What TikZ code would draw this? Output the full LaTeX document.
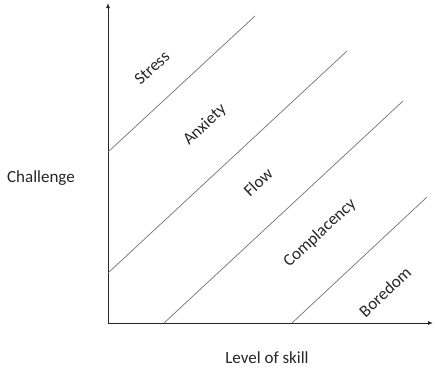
\documentclass[tikz,border=0pt]{standalone}
\usepackage{fontspec}
\setmainfont{Carlito}
\usetikzlibrary{arrows.meta}
\begin{document}
\begin{tikzpicture}[x=1pt,y=-1pt,
  axis/.style={draw=black!85,line width=0.9pt,-{Latex[length=5pt,width=4pt]}},
  zone/.style={draw=black!55,line width=0.7pt},
  lbl/.style={font=\fontsize{17}{20}\selectfont,text=black!85,inner sep=0pt},
  zlbl/.style={lbl,rotate=43}]
\useasboundingbox (0,0) rectangle (436,373);
\coordinate (o) at (108,323);
\coordinate (ytop) at (108,3);
\coordinate (xend) at (433,323);
\draw[axis] (o) -- (ytop);
\draw[axis] (o) -- (xend);
\coordinate (a1) at (108,152); \coordinate (b1) at (255,16);
\coordinate (a2) at (108,273); \coordinate (b2) at (347,51);
\coordinate (a3) at (164,323); \coordinate (b3) at (403,101);
\coordinate (a4) at (292,323); \coordinate (b4) at (427,197);
\draw[zone] (a1) -- (b1);
\draw[zone] (a2) -- (b2);
\draw[zone] (a3) -- (b3);
\draw[zone] (a4) -- (b4);
\node[zlbl] (stress) at (152,68) {Stress};
\node[zlbl] (anxiety) at (205,125) {Anxiety};
\node[zlbl] (flow) at (258,182) {Flow};
\node[zlbl] (compl) at (320,233) {Complacency};
\node[zlbl] (bored) at (385,292) {Boredom};
\node[lbl] (challenge) at (41,178) {Challenge};
\node[lbl] (skill) at (267,358) {Level of skill};
\end{tikzpicture}
\end{document}
